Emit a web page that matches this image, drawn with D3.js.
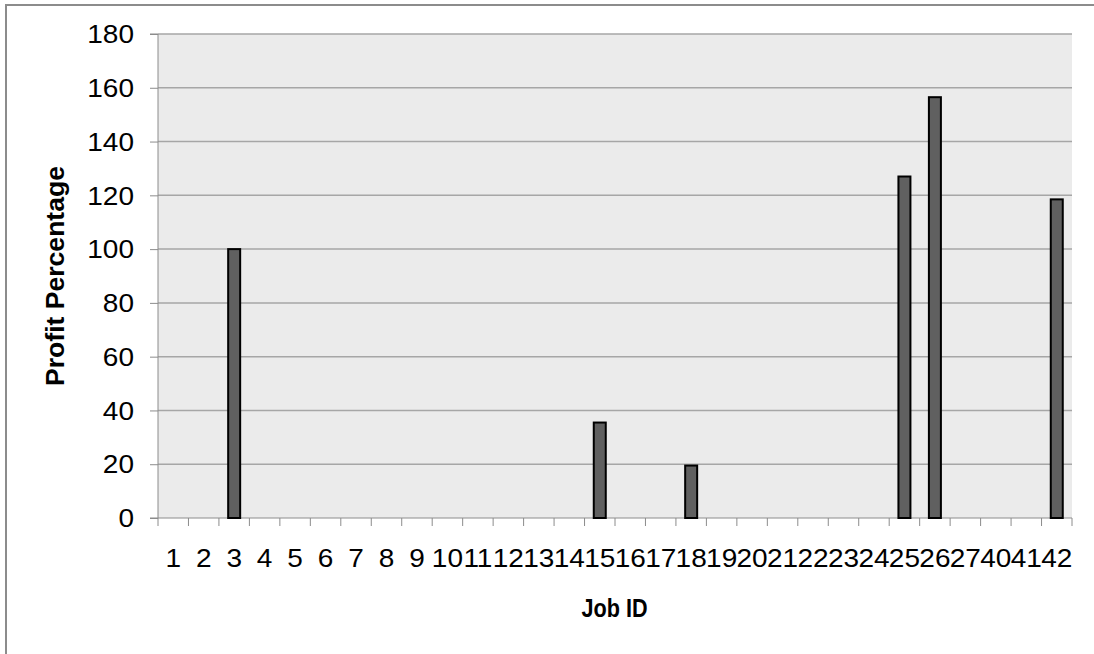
<!DOCTYPE html>
<html>
<head>
<meta charset="utf-8">
<script src="https://cdn.jsdelivr.net/npm/d3@7"></script>
<style>
  body { margin: 0; background: #fff; }
  svg { display: block; }
  .lbl { font-family: "Liberation Sans", Arial, sans-serif; font-size: 25px; fill: #000; }
</style>
</head>
<body>
<svg></svg>
<script>
var jobIds = ['1','2','3','4','5','6','7','8','9','10','11','12','13','14','15','16','17','18','19','20','21','22','23','24','25','26','27','40','41','42'];
var profits = [0,0,100,0,0,0,0,0,0,0,0,0,0,0,35.5,0,0,19.5,0,0,0,0,0,0,127,156.5,0,0,0,118.5];
var yTicks = [0,20,40,60,80,100,120,140,160,180];

var width = 1094;
var height = 654;
var plot = { left: 158, right: 1072, top: 34, bottom: 518 };
var stretch = 1.12;

var data = jobIds.map((id, i) => ({ id: id, value: profits[i] }));

var svg = d3.select('svg')
    .attr('width', width)
    .attr('height', height);

// outer frame (only top and left show in the picture)
svg.append('path')
    .attr('d', 'M6,' + height + 'V5H' + width)
    .attr('fill', 'none')
    .attr('stroke', '#8c8c8c')
    .attr('stroke-width', 2);

var xScale = d3.scaleBand()
    .domain(jobIds)
    .range([plot.left, plot.right]);

var yScale = d3.scaleLinear()
    .domain([0, 180])
    .range([plot.bottom, plot.top]);

svg.append('rect')
    .attr('x', plot.left)
    .attr('y', plot.top)
    .attr('width', plot.right - plot.left)
    .attr('height', plot.bottom - plot.top)
    .attr('fill', '#ebebeb');

svg.append('g')
    .selectAll('line')
    .data(yTicks.filter(d => d > 0))
    .enter()
    .append('line')
      .attr('x1', plot.left)
      .attr('x2', plot.right)
      .attr('y1', d => yScale(d))
      .attr('y2', d => yScale(d))
      .attr('stroke', '#a6a6a6')
      .attr('stroke-width', 1.5);

var yAxis = d3.axisLeft(yScale)
    .tickValues(yTicks)
    .tickSize(8);

svg.append('g')
    .classed('y-axis', true)
    .attr('transform', 'translate(' + plot.left + ', 0)')
    .call(yAxis)
    .call(g => g.selectAll('line, path').attr('stroke', '#8c8c8c'))
    .call(g => g.select('.domain').attr('d', 'M-8,' + plot.top + 'H0V' + plot.bottom + 'H-8'))
    .call(g => g.selectAll('.tick text')
        .classed('lbl', true)
        .attr('x', null)
        .attr('dy', '0.35em')
        .attr('transform', 'translate(-24,0) scale(' + stretch + ',1)'));

// x axis with ticks at category boundaries
var xg = svg.append('g')
    .classed('x-axis', true)
    .attr('transform', 'translate(0, ' + plot.bottom + ')');

xg.append('line')
    .attr('x1', plot.left)
    .attr('x2', plot.right)
    .attr('stroke', '#8c8c8c');

xg.selectAll('.bound')
    .data(d3.range(jobIds.length + 1))
    .enter()
    .append('line')
      .attr('x1', i => plot.left + i * xScale.step())
      .attr('x2', i => plot.left + i * xScale.step())
      .attr('y1', 0)
      .attr('y2', 8)
      .attr('stroke', '#8c8c8c');

xg.selectAll('text')
    .data(jobIds)
    .enter()
    .append('text')
      .classed('lbl', true)
      .attr('transform', d => 'translate(' + (xScale(d) + xScale.bandwidth() / 2) + ',49) scale(' + stretch + ',1)')
      .attr('text-anchor', 'middle')
      .text(d => d);

var barW = 12;
svg.append('g')
    .selectAll('rect')
    .data(data.filter(d => d.value > 0))
    .enter()
    .append('rect')
      .attr('x', d => xScale(d.id) + xScale.bandwidth() / 2 - barW / 2)
      .attr('y', d => yScale(d.value))
      .attr('width', barW)
      .attr('height', d => yScale(0) - yScale(d.value))
      .attr('fill', '#606060')
      .attr('stroke', '#000')
      .attr('stroke-width', 2);

svg.append('text')
    .attr('transform', 'translate(64, ' + (plot.top + plot.bottom) / 2 + ') rotate(-90)')
    .attr('text-anchor', 'middle')
    .attr('font-family', '"Liberation Sans", Arial, sans-serif')
    .attr('font-weight', 'bold')
    .attr('font-size', '25px')
    .attr('textLength', 220)
    .attr('lengthAdjust', 'spacingAndGlyphs')
    .text('Profit Percentage');

svg.append('text')
    .attr('x', 614.5)
    .attr('y', 617)
    .attr('text-anchor', 'middle')
    .attr('font-family', '"Liberation Sans", Arial, sans-serif')
    .attr('font-weight', 'bold')
    .attr('font-size', '25px')
    .attr('textLength', 66)
    .attr('lengthAdjust', 'spacingAndGlyphs')
    .text('Job ID');
</script>
</body>
</html>
